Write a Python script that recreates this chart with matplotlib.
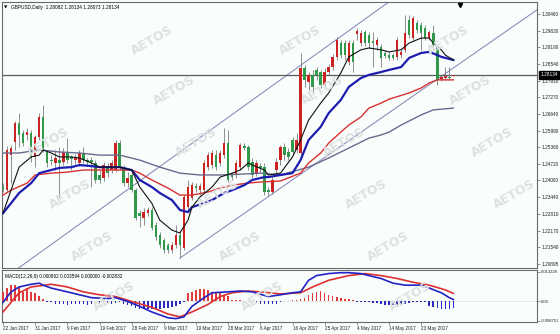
import matplotlib.pyplot as plt
from matplotlib.transforms import blended_transform_factory

# GBPUSD daily candles (one entry per bar, left to right)
opens = [1.2384, 1.2372, 1.2506, 1.2556, 1.2629, 1.2591, 1.2583, 1.2591, 1.2499, 1.2575,
         1.2652, 1.2518, 1.2487, 1.2476, 1.2487, 1.2480, 1.2514, 1.2499, 1.2487, 1.2476,
         1.2514, 1.2487, 1.2487, 1.2476, 1.2430, 1.2418, 1.2460, 1.2449, 1.2449, 1.2552,
         1.2460, 1.2399, 1.2430, 1.2372, 1.2284, 1.2265, 1.2284, 1.2296, 1.2238, 1.2200,
         1.2181, 1.2162, 1.2143, 1.2162, 1.2200, 1.2150, 1.2307, 1.2342, 1.2388, 1.2372,
         1.2372, 1.2460, 1.2468, 1.2506, 1.2476, 1.2506, 1.2552, 1.2430, 1.2430, 1.2460,
         1.2541, 1.2537, 1.2480, 1.2437, 1.2464, 1.2460, 1.2372, 1.2365, 1.2449, 1.2487,
         1.2537, 1.2518, 1.2564, 1.2526, 1.2514, 1.2840, 1.2786, 1.2813, 1.2832, 1.2824,
         1.2774, 1.2824, 1.2843, 1.2882, 1.2935, 1.2935, 1.2863, 1.2935, 1.2970, 1.2935,
         1.2977, 1.2966, 1.2943, 1.2928, 1.2920, 1.2897, 1.2889, 1.2889, 1.2882, 1.2889,
         1.2909, 1.3023, 1.2954, 1.3012, 1.3004, 1.2993, 1.2954, 1.2974, 1.2920, 1.2797,
         1.2801, 1.2805, 1.28082]
highs = [1.2399, 1.2541, 1.2545, 1.2637, 1.2667, 1.2602, 1.2610, 1.2602, 1.2583, 1.2667,
         1.2698, 1.2526, 1.2506, 1.2526, 1.2537, 1.2533, 1.2571, 1.2506, 1.2510, 1.2526,
         1.2537, 1.2495, 1.2499, 1.2487, 1.2449, 1.2480, 1.2476, 1.2487, 1.2564, 1.2564,
         1.2468, 1.2441, 1.2441, 1.2380, 1.2296, 1.2303, 1.2307, 1.2307, 1.2250, 1.2211,
         1.2188, 1.2169, 1.2173, 1.2238, 1.2219, 1.2353, 1.2411, 1.2403, 1.2399, 1.2399,
         1.2487, 1.2518, 1.2526, 1.2526, 1.2526, 1.2610, 1.2602, 1.2441, 1.2487, 1.2552,
         1.2552, 1.2545, 1.2495, 1.2487, 1.2476, 1.2476, 1.2384, 1.2422, 1.2495, 1.2545,
         1.2552, 1.2533, 1.2575, 1.2591, 1.2897, 1.2851, 1.2824, 1.2832, 1.2843, 1.2832,
         1.2840, 1.2855, 1.2893, 1.2958, 1.2947, 1.2947, 1.2947, 1.2947, 1.2993, 1.2985,
         1.2985, 1.2977, 1.2977, 1.2958, 1.2931, 1.2909, 1.2901, 1.2897, 1.2958, 1.2916,
         1.3043, 1.3043, 1.3039, 1.3023, 1.3016, 1.3004, 1.2985, 1.3004, 1.2928, 1.2813,
         1.2843, 1.2843, 1.28134]
lows = [1.2365, 1.2365, 1.2399, 1.2526, 1.2537, 1.2541, 1.2564, 1.2480, 1.2460, 1.2564,
        1.2518, 1.2460, 1.2468, 1.2449, 1.2346, 1.2468, 1.2476, 1.2449, 1.2472, 1.2464,
        1.2476, 1.2464, 1.2384, 1.2399, 1.2399, 1.2407, 1.2422, 1.2437, 1.2441, 1.2449,
        1.2388, 1.2384, 1.2365, 1.2257, 1.2231, 1.2238, 1.2273, 1.2219, 1.2181, 1.2150,
        1.2131, 1.2131, 1.2131, 1.2150, 1.2112, 1.2143, 1.2296, 1.2334, 1.2365, 1.2353,
        1.2365, 1.2449, 1.2457, 1.2449, 1.2464, 1.2495, 1.2403, 1.2411, 1.2418, 1.2449,
        1.2526, 1.2449, 1.2418, 1.2426, 1.2441, 1.2353, 1.2349, 1.2357, 1.2430, 1.2468,
        1.2487, 1.2487, 1.2506, 1.2514, 1.2506, 1.2767, 1.2755, 1.2748, 1.2794, 1.2763,
        1.2763, 1.2813, 1.2832, 1.2870, 1.2878, 1.2870, 1.2851, 1.2824, 1.2947, 1.2924,
        1.2924, 1.2916, 1.2843, 1.2909, 1.2843, 1.2878, 1.2870, 1.2870, 1.2870, 1.2878,
        1.2901, 1.2954, 1.2947, 1.2974, 1.2909, 1.2947, 1.2947, 1.2920, 1.2774, 1.2790,
        1.2794, 1.2794, 1.28073]
closes = [1.2376, 1.2526, 1.2533, 1.2629, 1.2583, 1.2552, 1.2594, 1.2495, 1.2575, 1.2652,
          1.2526, 1.2476, 1.2483, 1.2495, 1.2476, 1.2518, 1.2487, 1.2491, 1.2495, 1.2514,
          1.2487, 1.2480, 1.2480, 1.2411, 1.2411, 1.2468, 1.2437, 1.2476, 1.2552, 1.2460,
          1.2399, 1.2418, 1.2372, 1.2265, 1.2273, 1.2288, 1.2296, 1.2227, 1.2192, 1.2162,
          1.2143, 1.2143, 1.2162, 1.2200, 1.2162, 1.2346, 1.2384, 1.2391, 1.2380, 1.2388,
          1.2476, 1.2506, 1.2514, 1.2460, 1.2514, 1.2552, 1.2411, 1.2422, 1.2476, 1.2545,
          1.2533, 1.2460, 1.2430, 1.2476, 1.2457, 1.2365, 1.2365, 1.2411, 1.2480, 1.2537,
          1.2506, 1.2499, 1.2518, 1.2564, 1.2840, 1.2794, 1.2813, 1.2767, 1.2813, 1.2774,
          1.2824, 1.2843, 1.2882, 1.2947, 1.2889, 1.2889, 1.2935, 1.2863, 1.2981, 1.2974,
          1.2935, 1.2935, 1.2935, 1.2947, 1.2878, 1.2886, 1.2878, 1.2878, 1.2947, 1.2901,
          1.2974, 1.2966, 1.3031, 1.2985, 1.2974, 1.2954, 1.2977, 1.2928, 1.2794, 1.2805,
          1.2809, 1.2801, 1.28134]
last_price = 1.28134

# moving averages, read at sampled bars
black_bars = [0, 2, 4, 7, 9, 10, 12, 14, 17, 19, 22, 24, 27, 29, 32, 34, 37, 39, 42, 44,
              46, 47, 49, 52, 54, 57, 59, 61, 62, 65, 66, 69, 72, 74, 76, 79, 81, 84, 86, 89,
              91, 94, 96, 99, 101, 104, 106, 107, 109, 110, 112]
black_vals = [1.2284, 1.2372, 1.2460, 1.2499, 1.2506, 1.2526, 1.2514, 1.2499, 1.2499, 1.2495,
              1.2476, 1.2460, 1.2460, 1.2460, 1.2449, 1.2384, 1.2322, 1.2257, 1.2219, 1.2208,
              1.2257, 1.2307, 1.2346, 1.2384, 1.2422, 1.2437, 1.2449, 1.2476, 1.2468, 1.2449,
              1.2430, 1.2437, 1.2499, 1.2564, 1.2640, 1.2705, 1.2744, 1.2820, 1.2882, 1.2909,
              1.2916, 1.2909, 1.2901, 1.2909, 1.2935, 1.2954, 1.2954, 1.2935, 1.2909, 1.2889,
              1.2870]
blue_bars = [0, 2, 4, 7, 9, 12, 14, 17, 19, 22, 24, 27, 29, 32, 34, 37, 39, 42, 44, 46,
             47, 50, 52, 55, 57, 60, 62, 65, 66, 69, 72, 74, 76, 79, 81, 84, 86, 89, 91, 94,
             96, 99, 101, 104, 106, 108, 109, 112]
blue_vals = [1.2284, 1.2322, 1.2361, 1.2399, 1.2437, 1.2449, 1.2457, 1.2460, 1.2468, 1.2464,
             1.2460, 1.2460, 1.2460, 1.2449, 1.2411, 1.2384, 1.2361, 1.2334, 1.2296, 1.2288,
             1.2307, 1.2322, 1.2334, 1.2361, 1.2372, 1.2391, 1.2411, 1.2422, 1.2422, 1.2430,
             1.2437, 1.2487, 1.2564, 1.2614, 1.2667, 1.2717, 1.2767, 1.2801, 1.2813, 1.2824,
             1.2832, 1.2843, 1.2878, 1.2897, 1.2901, 1.2889, 1.2882, 1.2870]
red_bars = [0, 2, 6, 8, 12, 16, 20, 24, 28, 32, 34, 37, 41, 44, 47, 51, 54, 57, 61, 64,
            69, 74, 76, 79, 81, 84, 86, 89, 91, 94, 96, 101, 104, 106, 108, 112]
red_vals = [1.2353, 1.2372, 1.2399, 1.2430, 1.2437, 1.2441, 1.2449, 1.2449, 1.2449, 1.2449,
            1.2437, 1.2411, 1.2380, 1.2353, 1.2353, 1.2365, 1.2380, 1.2391, 1.2399, 1.2403,
            1.2407, 1.2437, 1.2476, 1.2514, 1.2552, 1.2594, 1.2621, 1.2652, 1.2686, 1.2705,
            1.2720, 1.2744, 1.2763, 1.2782, 1.2794, 1.2794]
slow_bars = [0, 4, 9, 14, 19, 24, 29, 34, 39, 44, 49, 54, 59, 64, 69, 76, 81, 86, 91, 94,
             96, 99, 104, 107, 112]
slow_vals = [1.2514, 1.2514, 1.2526, 1.2518, 1.2514, 1.2506, 1.2506, 1.2487, 1.2460, 1.2437,
             1.2430, 1.2430, 1.2433, 1.2437, 1.2430, 1.2460, 1.2495, 1.2533, 1.2571, 1.2583,
             1.2594, 1.2621, 1.2660, 1.2679, 1.2686]

# channel lines (two anchor points each: bar, price)
upper_channel = [(3.5, 1.2070), (96.3, 1.3096)]
lower_channel = [(44, 1.2112), (132.8, 1.3062)]

# MACD(12,26,9)
macd_bars = [0, 2, 4, 7, 9, 10, 12, 16, 19, 22, 26, 28, 31, 34, 37, 41, 43, 45, 47, 50,
             52, 56, 59, 62, 66, 69, 72, 74, 76, 78, 81, 84, 86, 89, 91, 94, 97, 100, 104, 106,
             109, 111, 112]
macd_vals = [-0.0004, 0.0043, 0.0065, 0.0077, 0.0082, 0.0073, 0.0060, 0.0043, 0.0030, 0.0017,
             0.0013, 0.0017, 0.0000, -0.0022, -0.0047, -0.0073, -0.0077, -0.0069, -0.0022, 0.0017,
             0.0039, 0.0043, 0.0047, 0.0043, 0.0022, 0.0030, 0.0039, 0.0043, 0.0095, 0.0116,
             0.0125, 0.0129, 0.0129, 0.0125, 0.0116, 0.0103, 0.0082, 0.0073, 0.0073, 0.0060,
             0.0039, 0.0017, 0.000862]
signal_bars = [0, 2, 4, 7, 12, 16, 20, 24, 28, 32, 37, 41, 44, 47, 51, 54, 57, 61, 64, 69,
               74, 77, 81, 86, 90, 94, 98, 102, 106, 110, 112]
signal_vals = [-0.0047, -0.0004, 0.0039, 0.0065, 0.0077, 0.0065, 0.0043, 0.0030, 0.0022, 0.0000,
               -0.0026, -0.0056, -0.0069, -0.0047, -0.0013, 0.0022, 0.0039, 0.0047, 0.0043, 0.0034,
               0.0039, 0.0065, 0.0095, 0.0116, 0.0125, 0.0116, 0.0103, 0.0086, 0.0073, 0.0052,
               0.003594]
hist_vals = [0.0044, 0.0059, 0.0073, 0.0075, 0.0063, 0.0044, 0.0059, 0.0044, 0.0037, 0.0023,
             0.0012, -0.0002, -0.0003, -0.0012, -0.0013, -0.0013, -0.0014, -0.0013, -0.0013, -0.0012,
             -0.0013, -0.0014, -0.0013, -0.0012, -0.0013, -0.0012, -0.0012, -0.0010, -0.0005, -0.0004,
             -0.0010, -0.0017, -0.0022, -0.0028, -0.0032, -0.0034, -0.0034, -0.0034, -0.0033, -0.0032,
             -0.0030, -0.0028, -0.0024, -0.0020, -0.0010, -0.0003, 0.0037, 0.0044, 0.0052, 0.0055,
             0.0055, 0.0052, 0.0044, 0.0040, 0.0037, 0.0030, 0.0023, 0.0008, 0.0006, 0.0005,
             0.0004, 0.0003, 0.0002, -0.0008, -0.0010, -0.0013, -0.0013, -0.0012, -0.0010, -0.0004,
             0.0003, 0.0004, 0.0005, 0.0006, 0.0010, 0.0016, 0.0030, 0.0040, 0.0044, 0.0049,
             0.0037, 0.0030, 0.0023, 0.0020, 0.0016, 0.0012, 0.0009, 0.0006, -0.0003, -0.0003,
             -0.0003, -0.0003, -0.0005, -0.0009, -0.0013, -0.0017, -0.0017, -0.0017, -0.0017, -0.0015,
             -0.0013, -0.0006, -0.0004, -0.0004, -0.0004, -0.0004, -0.0020, -0.0026, -0.0030, -0.0034,
             -0.0034, -0.0034, -0.002832]

price_ticks = [1.30460, 1.29820, 1.29190, 1.28540, 1.27910, 1.27270, 1.26640, 1.25990,
               1.25360, 1.24720, 1.24090, 1.23440, 1.22810, 1.22170, 1.21540, 1.20895]
macd_ticks = [0.013228, 0.0, -0.008751]
macd_tick_labels = ['0.013228', '0.00', '-0.008751']
date_bars = [0, 8, 16, 24, 32, 40, 48, 56, 64, 72, 80, 88, 96, 104]
date_labels = ['22 Jan 2017', '31 Jan 2017', '9 Feb 2017', '19 Feb 2017', '28 Feb 2017',
               '9 Mar 2017', '19 Mar 2017', '28 Mar 2017', '6 Apr 2017', '16 Apr 2017',
               '25 Apr 2017', '4 May 2017', '14 May 2017', '23 May 2017']

plt.rcParams['font.family'] = ['Liberation Sans', 'DejaVu Sans']
BG = '#f9fefc'
W, H = 560, 334
FS = 3.4

fig = plt.figure(figsize=(5.6, 3.34), dpi=100, facecolor=BG)


def px_axes(x0, y0, x1, y1):
    return fig.add_axes([x0 / W, 1 - y1 / H, (x1 - x0) / W, (y1 - y0) / H])


ax = px_axes(2, 2, 537, 268)
mx = px_axes(2, 270, 537, 322)

# watermark (tiled, kept inside the figure)
for r, wy in enumerate([40, 90, 142, 194, 246, 296]):
    for c in range(-1, 5):
        wx = 4 + r * 22 + c * 148
        if 30 <= wx <= 525:
            fig.text(wx / W, 1 - wy / H, 'AETOS', rotation=30, fontsize=9,
                     fontweight='bold', family='DejaVu Sans', color='#dde1e1',
                     ha='center', va='center', zorder=0)

for a in (ax, mx):
    a.set_facecolor('none')
    a.set_xlim(-0.25, 132.8)
    for s in a.spines.values():
        s.set_color('#6a6a6a')
        s.set_linewidth(0.8)

# candles
n = len(closes)
bars = list(range(n))
colors = ['#cc2222' if c >= o else '#2e9a4a' for o, c in zip(opens, closes)]
ax.vlines(bars, lows, highs, color='#7c7c7c', lw=0.6, zorder=3)
body_lo = [min(o, c) for o, c in zip(opens, closes)]
body_h = [max(abs(c - o), 0.00025) for o, c in zip(opens, closes)]
ax.bar(bars, body_h, bottom=body_lo, width=0.62, color=colors, lw=0, zorder=4)

# moving averages
ax.plot(slow_bars, slow_vals, color='#6a6a8e', lw=1.0, zorder=5)
ax.plot(red_bars, red_vals, color='#d83030', lw=1.0, zorder=5)
ax.plot(blue_bars, blue_vals, color='#1c1cb0', lw=1.6, zorder=6)
ax.plot(black_bars, black_vals, color='#111111', lw=0.8, zorder=7)

# channel
ax.axline(upper_channel[0], upper_channel[1], color='#8e8eba', lw=0.8, zorder=2)
ax.plot([p[0] for p in lower_channel], [p[1] for p in lower_channel],
        color='#8e8eba', lw=0.8, zorder=2)

ax.axhline(last_price, color='#5a5a5a', lw=0.9, zorder=2)
ax.set_ylim(1.2074, 1.3092)
ax.set_xticks([])
ax.yaxis.tick_right()
ax.set_yticks(price_ticks, [f'{t:.5f}' for t in price_ticks])
ax.tick_params(axis='y', labelsize=FS, length=2, width=0.5, pad=1.5,
               colors='#6a6a6a', labelcolor='#202020')

trans = blended_transform_factory(ax.transAxes, ax.transData)
ax.text(1.006, last_price, '1.28134', transform=trans, fontsize=FS, color='white',
        va='center', ha='left', zorder=10,
        bbox=dict(boxstyle='square,pad=0.3', fc='black', ec='black'))

ax.text(0.004, 0.988, '\u25bc', transform=ax.transAxes, fontsize=3.2, va='top',
        family='DejaVu Sans')
ax.text(0.017, 0.988, 'GBPUSD,Daily  1.28082 1.28134 1.28073 1.28134',
        transform=ax.transAxes, fontsize=FS, va='top')
ax.plot(0.856, 0.99, marker='v', ms=3, color='black', transform=ax.transAxes,
        clip_on=False, zorder=10)

# MACD panel
hist_colors = ['#e03c3c' if h > 0 else '#2a2ac0' for h in hist_vals]
mx.bar(bars, hist_vals, width=0.38, color=hist_colors, lw=0, zorder=3)
mx.plot(signal_bars, signal_vals, color='#dd3030', lw=1.2, zorder=4)
mx.plot(macd_bars, macd_vals, color='#2222c4', lw=1.2, zorder=5)
mx.axhline(0, color='#a0a0a0', lw=0.5, ls=(0, (1, 2)), zorder=1)
mx.set_ylim(-0.0092, 0.0141)
mx.yaxis.tick_right()
mx.set_yticks(macd_ticks, macd_tick_labels)
mx.tick_params(axis='y', labelsize=3.0, length=2, width=0.5, pad=1.0,
               colors='#6a6a6a', labelcolor='#202020')
mx.set_xticks(date_bars, date_labels, ha='left')
mx.tick_params(axis='x', labelsize=3.3, length=2, width=0.5, pad=1.2,
               colors='#6a6a6a', labelcolor='#202020')
mx.text(0.006, 0.93, 'MACD(12,26,9) 0.000862 0.003594 0.000000 -0.002832',
        transform=mx.transAxes, fontsize=FS, va='top')

fig.savefig('out.png', dpi=100, facecolor=BG)
